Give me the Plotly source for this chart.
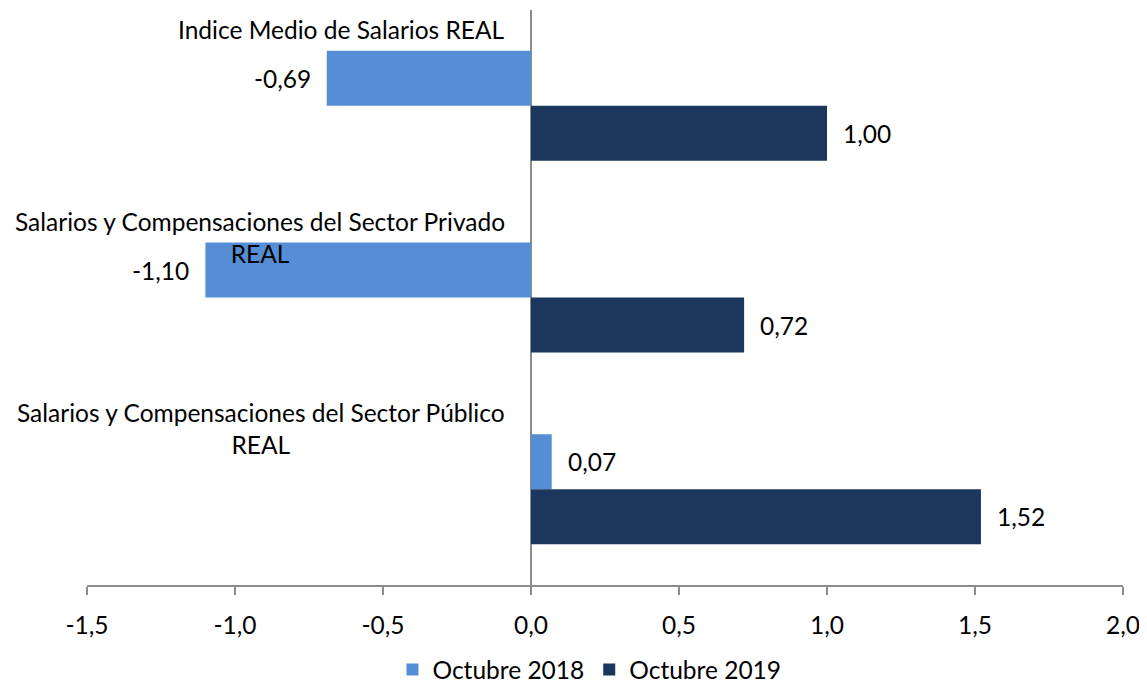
import plotly.graph_objects as go

categories = [
    "Indice Medio de Salarios REAL",
    "Salarios y Compensaciones del Sector Privado<br>REAL",
    "Salarios y Compensaciones del Sector Público<br>REAL",
]
series_names = ["Octubre 2018", "Octubre 2019"]
oct_2018 = [-0.69, -1.10, 0.07]
oct_2019 = [1.00, 0.72, 1.52]
tick_vals = [-1.5, -1.0, -0.5, 0.0, 0.5, 1.0, 1.5, 2.0]
tick_text = ["-1,5", "-1,0", "-0,5", "0,0", "0,5", "1,0", "1,5", "2,0"]

colors = ["#558ed5", "#1b375e"]
font_family = "Lato, 'Open Sans', sans-serif"
fs = 24.5
bar_px = 55  # approximate bar thickness, used only to offset value labels

fig = go.Figure()
for name, vals, col in zip(series_names, [oct_2018, oct_2019], colors):
    fig.add_trace(go.Bar(
        y=categories, x=vals, name=name, orientation="h",
        marker=dict(color=col, line=dict(width=0)),
    ))

# value labels
for i, vals in enumerate([oct_2018, oct_2019]):
    yshift = bar_px / 2 if i == 0 else -bar_px / 2
    for cat, v in zip(categories, vals):
        fig.add_annotation(
            x=v, y=cat, xref="x", yref="y",
            text=f"{v:.2f}".replace(".", ","),
            xanchor="left" if v >= 0 else "right",
            xshift=14 if v >= 0 else -14, yshift=yshift,
            showarrow=False, font=dict(size=fs, color="#000000", family=font_family),
        )

# category labels
for cat in categories:
    fig.add_annotation(
        x=0, y=cat, xref="x", yref="y", text=cat,
        xanchor="right", yanchor="top", align="center",
        xshift=-24, yshift=93, showarrow=False,
        font=dict(size=fs, color="#000000", family=font_family),
    )

fig.update_layout(
    width=1139, height=684,
    margin=dict(l=79, r=24, t=2, b=107),
    paper_bgcolor="white", plot_bgcolor="white",
    separators=",.",
    barmode="group", bargap=0.426, bargroupgap=0,
    font=dict(family=font_family, size=fs, color="#000000"),
    showlegend=True,
    legend=dict(orientation="h", x=0.485, xanchor="center",
                yref="container", y=0.0, yanchor="bottom",
                font=dict(size=fs), traceorder="normal", itemwidth=30),
    xaxis=dict(range=[-1.5, 2.0], tickvals=tick_vals, ticktext=tick_text,
               showgrid=False, zeroline=True, zerolinecolor="#8c8c8c", zerolinewidth=2,
               showline=True, linecolor="#8c8c8c", linewidth=2,
               ticks="outside", ticklen=8, tickcolor="#8c8c8c", tickwidth=2,
               ticklabelstandoff=10, tickfont=dict(size=fs)),
    yaxis=dict(autorange="reversed", showticklabels=False, showgrid=False,
               showline=False, zeroline=False, ticks=""),
)

fig.write_html("out.html")
